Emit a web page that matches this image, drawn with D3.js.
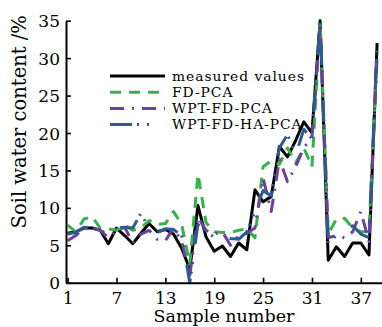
<!DOCTYPE html>
<html>
<head>
<meta charset="utf-8">
<script src="https://cdn.jsdelivr.net/npm/d3@7"></script>
<style>
  html, body { margin: 0; padding: 0; background: #fff; }
  svg { display: block; font-family: "DejaVu Serif", serif; }
</style>
</head>
<body>
<div id="chart"></div>
<script>
// sample numbers on the x axis
var samples = [1, 2, 3, 4, 5, 6, 7, 8, 9, 10, 11, 12, 13, 14, 15, 16, 17, 18, 19, 20,
               21, 22, 23, 24, 25, 26, 27, 28, 29, 30, 31, 32, 33, 34, 35, 36, 37, 38, 39];

// soil water content (%)
var measured = [6.6, 6.8, 7.3, 7.3, 7.0, 5.2, 7.3, 6.3, 5.2, 6.6,
                7.9, 6.8, 7.1, 6.5, 4.6, 1.8, 10.3, 6.1, 4.2, 4.9,
                3.5, 5.3, 4.4, 12.4, 10.8, 11.5, 18.2, 16.8, 19.0, 21.5,
                20.0, 35.0, 3.0, 4.8, 3.5, 5.3, 5.3, 3.7, 32.0];
var fdPca = [7.7, 6.8, 8.5, 8.8, 7.3, 7.2, 7.0, 7.7, 7.0, 7.3,
             8.3, 7.8, 7.9, 9.5, 7.8, 2.5, 14.5, 8.0, 6.8, 6.7,
             6.7, 7.0, 7.2, 6.0, 15.5, 16.3, 15.8, 18.0, 16.0, 18.0,
             15.5, 34.8, 6.5, 8.5, 8.6, 7.3, 6.8, 6.8, 30.5];
var wptFdPca = [5.6, 6.3, 7.3, 7.3, 7.0, 6.0, 7.0, 7.4, 5.3, 6.5,
                7.0, 5.8, 5.6, 7.3, 5.5, 1.0, 8.8, 7.0, 6.5, 6.8,
                5.0, 6.3, 6.6, 7.3, 14.0, 9.5, 16.5, 13.5, 15.5, 18.0,
                19.5, 34.5, 6.0, 6.3, 6.0, 6.8, 9.5, 5.5, 30.5];
var wptFdHaPca = [6.5, 6.7, 7.4, 7.3, 7.0, 6.5, 7.3, 7.4, 7.3, 9.3,
                  7.2, 6.7, 7.2, 7.1, 6.3, 0.0, 7.8, 6.8, 6.1, 6.4,
                  5.9, 5.8, 6.8, 9.5, 12.3, 11.6, 18.0, 19.8, 17.0, 20.5,
                  19.2, 35.0, 5.3, 6.3, 7.0, 7.6, 6.5, 6.0, 31.8];

var seriesNames = ["measured values", "FD-PCA", "WPT-FD-PCA", "WPT-FD-HA-PCA"];
var xTicks = [1, 7, 13, 19, 25, 31, 37];
var yTicks = [0, 5, 10, 15, 20, 25, 30, 35];

var width = 382,
    height = 327,
    margin = {top: 20.7, right: 0, bottom: 44.3, left: 66};

var styles = [
  {color: "#000000", dash: null},
  {color: "#35b24a", dash: "11,8"},
  {color: "#6f3f9f", dash: "14,8,2,8"},
  {color: "#2d5a92", dash: "22,5,2,8,2,18"}
];

var series = [measured, fdPca, wptFdPca, wptFdHaPca].map(function(v, i) {
  return {name: seriesNames[i], style: styles[i], values: v.map(function(d, j) { return [samples[j], d]; })};
});

var xScale = d3.scaleLinear().domain([0.8, 39.6]).range([margin.left, width - margin.right]);
var yScale = d3.scaleLinear().domain([0, 35]).range([height - margin.bottom, margin.top]);

var svg = d3.select("#chart").append("svg")
    .attr("width", width)
    .attr("height", height);

var line = d3.line()
    .x(function(d) { return xScale(d[0]); })
    .y(function(d) { return yScale(d[1]); });

// data lines, measured first so the models sit on top
svg.append("g").selectAll("path")
    .data(series)
  .enter().append("path")
    .attr("d", function(d) { return line(d.values); })
    .attr("fill", "none")
    .attr("stroke", function(d) { return d.style.color; })
    .attr("stroke-width", 3)
    .attr("stroke-dasharray", function(d) { return d.style.dash; })
    .attr("stroke-linejoin", "round");

// axes, ticks point inward
var xAxis = d3.axisBottom(xScale).tickValues(xTicks).tickSizeInner(-5).tickSizeOuter(0).tickPadding(9);
var yAxis = d3.axisLeft(yScale).tickValues(yTicks).tickSizeInner(-5).tickSizeOuter(0).tickPadding(6);

var gx = svg.append("g")
    .attr("transform", "translate(0," + yScale(0) + ")")
    .call(xAxis);
var gy = svg.append("g")
    .attr("transform", "translate(" + margin.left + ",0)")
    .call(yAxis);

[gx, gy].forEach(function(g) {
  g.select(".domain").attr("stroke", "#000").attr("stroke-width", 2);
  g.selectAll(".tick line").attr("stroke", "#000").attr("stroke-width", 1.6);
  g.selectAll(".tick text")
      .attr("fill", "#000")
      .style("font-family", "'DejaVu Serif', serif")
      .style("font-size", "17px");
});
gy.selectAll(".tick text").attr("dy", "0.36em");

// axis titles
svg.append("text")
    .attr("x", xScale(20.2))
    .attr("y", 322)
    .attr("text-anchor", "middle")
    .style("font-size", "17.5px")
    .text("Sample number");

svg.append("text")
    .attr("transform", "translate(26," + yScale(21.5) + ") rotate(-90)")
    .attr("text-anchor", "middle")
    .style("font-size", "19.5px")
    .text("Soil water content /%");

// legend
var legend = svg.append("g").attr("transform", "translate(110,76)");
var item = legend.selectAll("g")
    .data(series)
  .enter().append("g")
    .attr("transform", function(d, i) { return "translate(0," + (i * 16.2) + ")"; });

item.append("line")
    .attr("x1", 0).attr("x2", 55)
    .attr("stroke", function(d) { return d.style.color; })
    .attr("stroke-width", 3)
    .attr("stroke-dasharray", function(d) { return d.style.dash; });

item.append("text")
    .attr("x", 62)
    .attr("dy", "0.35em")
    .style("font-size", "13.8px")
    .style("letter-spacing", "1px")
    .text(function(d) { return d.name; });
</script>
</body>
</html>
